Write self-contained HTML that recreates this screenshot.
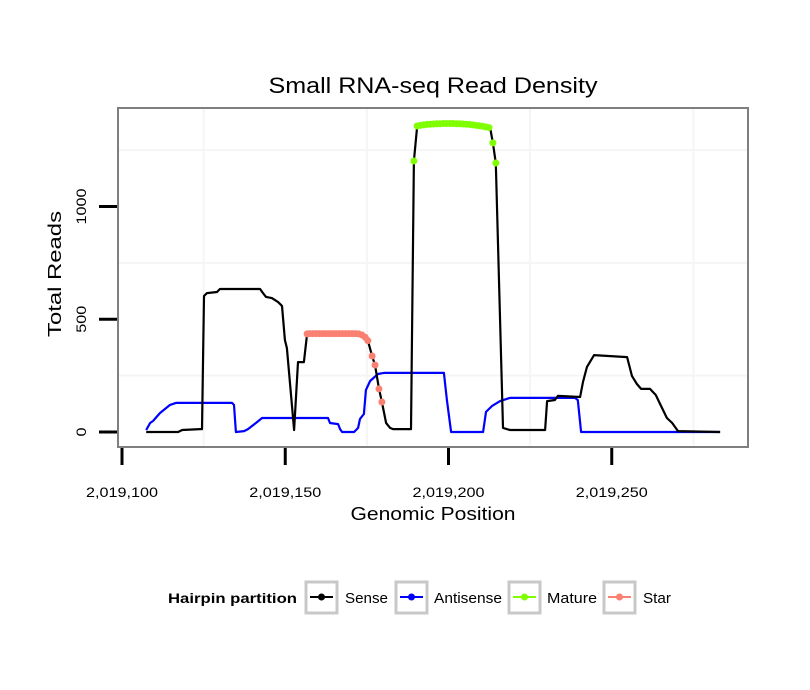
<!DOCTYPE html>
<html><head><meta charset="utf-8"><style>
body{margin:0;background:#fff;}
svg{display:block;font-family:"Liberation Sans",sans-serif;}
</style></head><body>
<svg id="chart" width="810" height="690">
<text x="433" y="93" font-size="22" text-anchor="middle" textLength="329" lengthAdjust="spacingAndGlyphs">Small RNA-seq Read Density</text>
<rect x="118" y="108" width="630" height="339" fill="#fff"/>
<g id="grid"></g>
<g id="series"></g>
<rect x="118" y="108" width="630" height="339" fill="none" stroke="#7f7f7f" stroke-width="2"/>
<g id="axes"></g>
<text x="433" y="520" font-size="18" text-anchor="middle" textLength="165" lengthAdjust="spacingAndGlyphs">Genomic Position</text>
<text transform="translate(61,274) rotate(-90)" font-size="18" text-anchor="middle" textLength="126" lengthAdjust="spacingAndGlyphs">Total Reads</text>
<g>
<text x="168" y="603" font-size="14" font-weight="bold" textLength="129" lengthAdjust="spacingAndGlyphs">Hairpin partition</text>
<g>
<rect x="306" y="582" width="31" height="31" fill="#fff" stroke="#c8c8c8" stroke-width="3"/>
<line x1="310" y1="597" x2="333" y2="597" stroke="#000" stroke-width="2"/><circle cx="321.5" cy="597" r="3.5" fill="#000"/>
<text x="345" y="603" font-size="15" textLength="43" lengthAdjust="spacingAndGlyphs">Sense</text></g>
<g>
<rect x="396" y="582" width="31" height="31" fill="#fff" stroke="#c8c8c8" stroke-width="3"/>
<line x1="400" y1="597" x2="423" y2="597" stroke="#0000ff" stroke-width="2"/><circle cx="411.5" cy="597" r="3.5" fill="#0000ff"/>
<text x="434" y="603" font-size="15" textLength="68" lengthAdjust="spacingAndGlyphs">Antisense</text></g>
<g>
<rect x="509" y="582" width="31" height="31" fill="#fff" stroke="#c8c8c8" stroke-width="3"/>
<line x1="513" y1="597" x2="536" y2="597" stroke="#7fff00" stroke-width="2"/><circle cx="524.5" cy="597" r="3.5" fill="#7fff00"/>
<text x="547" y="603" font-size="15" textLength="50" lengthAdjust="spacingAndGlyphs">Mature</text></g>
<g>
<rect x="604" y="582" width="31" height="31" fill="#fff" stroke="#c8c8c8" stroke-width="3"/>
<line x1="608" y1="597" x2="631" y2="597" stroke="#fa8072" stroke-width="2"/><circle cx="619.5" cy="597" r="3.5" fill="#fa8072"/>
<text x="643" y="603" font-size="15" textLength="28" lengthAdjust="spacingAndGlyphs">Star</text></g>
</g>
</svg>
<script>
const base = 2019100;
const senseX = [7.4,17.2,18.4,23.9,24.5,25.1,26.0,29.1,30.0,42.3,43.2,44.1,45.9,47.8,49.0,49.9,50.5,52.7,53.9,55.7,56.7,72.6,73.5,74.5,75.3,76.6,77.5,78.7,79.6,80.9,82.1,83.0,88.5,89.4,90.4,95,100,105,110,112.7,113.6,114.5,116.7,118.8,129.6,130.2,132.6,133.5,140.3,141.2,142.4,144.6,154.7,156.2,157.7,159.0,161.7,163.5,164.8,166.9,168.5,170.3,183.2];
const senseY = [0,0,9,13,13,603,616,621,634,634,616,599,594,576,559,408,372,9,310,310,435,435,425,418,405,337,297,191,133,40,18,13,13,1202,1357,1366,1368,1366,1360,1352,1282,1193,18,9,9,137,142,160,155,222,288,341,332,248,213,191,191,164,124,62,40,4,0];
const antiX = [7.4,8.6,9.5,11.6,14.7,16.5,33.7,34.3,34.9,37.4,38.6,41.0,42.9,63.1,63.7,66.2,66.8,67.4,71.1,72.3,72.9,74.1,74.7,76.0,78.4,80.2,98.6,99.5,100.8,110.6,111.5,113.3,115.8,118.8,138.7,139.6,140.6,183.2];
const antiY = [9,40,49,84,120,129,129,120,0,4,13,40,62,62,40,35,13,0,0,18,58,80,186,226,257,262,262,142,0,0,89,115,137,151,151,142,0,0];
const starX = [56.7,57.5,58.5,59.5,60.5,61.5,62.5,63.5,64.5,65.5,66.5,67.5,68.5,69.5,70.5,71.5,72.5,73.5,74.5,75.3,76.6,77.5,78.7,79.6];
const starY = [435,436,436,436,436,436,436,436,436,436,436,436,436,436,436,436,435,430,420,405,337,297,191,133];
const matureX = [89.4,90.4,91.4,92.4,93.4,94.4,95.4,96.4,97.4,98.4,99.4,100.4,101.4,102.4,103.4,104.4,105.4,106.4,107.4,108.4,109.4,110.4,111.4,112.4,113.6,114.5];
const matureY = [1202,1357,1360,1362,1364,1365,1366,1367,1367,1368,1368,1368,1368,1367,1367,1366,1365,1364,1362,1360,1358,1356,1353,1350,1282,1193];
const xTicks = [2019100,2019150,2019200,2019250];
const xTickLabels = ["2,019,100","2,019,150","2,019,200","2,019,250"];
const yTicks = [0,500,1000];
const yTickLabels = ["0","500","1000"];
const xMinor = [2019125,2019175,2019225,2019275];
const yMinor = [250,750,1250];

const NS="http://www.w3.org/2000/svg";
function sx(p){return 122+(p-base)*3.265;}
function sy(v){return 432-v*0.2255;}
function mk(tag,attrs,parent){const e=document.createElementNS(NS,tag);for(const k in attrs)e.setAttribute(k,attrs[k]);parent.appendChild(e);return e;}
const grid=document.getElementById('grid'),ser=document.getElementById('series'),axes=document.getElementById('axes');
xMinor.forEach(p=>{const l=mk('line',{x1:sx(p),x2:sx(p),y1:109,y2:446,stroke:'#f5f5f5','stroke-width':2},grid);

});
yMinor.forEach(v=>{const l=mk('line',{x1:119,x2:747,y1:sy(v),y2:sy(v),stroke:'#f5f5f5','stroke-width':2},grid);

});
function line(xs,ys,color,w,name){const d=xs.map((x,i)=>(i?'L':'M')+sx(base+x).toFixed(1)+' '+sy(ys[i]).toFixed(1)).join(' ');
const p=mk('path',{d:d,fill:'none',stroke:color,'stroke-width':w,'stroke-linejoin':'round'},ser);

}
function pts(xs,ys,color,name){xs.forEach((x,i)=>{const c=mk('circle',{cx:sx(base+x),cy:sy(ys[i]),r:3.5,fill:color},ser);

});}
line(antiX,antiY,'#0000ff',2.2,'antisense-line');
line(senseX,senseY,'#000',2.2,'sense-line');
pts(starX,starY,'#fa8072','star-point');
pts(matureX,matureY,'#7fff00','mature-point');
xTicks.forEach((p,i)=>{const t=mk('line',{x1:sx(p),x2:sx(p),y1:448,y2:465,stroke:'#000','stroke-width':3},axes);


const tx=mk('text',{x:sx(p),y:497,'font-size':14,'text-anchor':'middle',textLength:72,lengthAdjust:'spacingAndGlyphs'},axes);tx.textContent=xTickLabels[i];

});
yTicks.forEach((v,i)=>{const t=mk('line',{x1:99,x2:117,y1:sy(v),y2:sy(v),stroke:'#000','stroke-width':3},axes);


const tx=mk('text',{transform:'translate(86,'+sy(v)+') rotate(-90)','font-size':14,'text-anchor':'middle',textLength:yTickLabels[i].length*9,lengthAdjust:'spacingAndGlyphs'},axes);tx.textContent=yTickLabels[i];

});
</script>
</body></html>
